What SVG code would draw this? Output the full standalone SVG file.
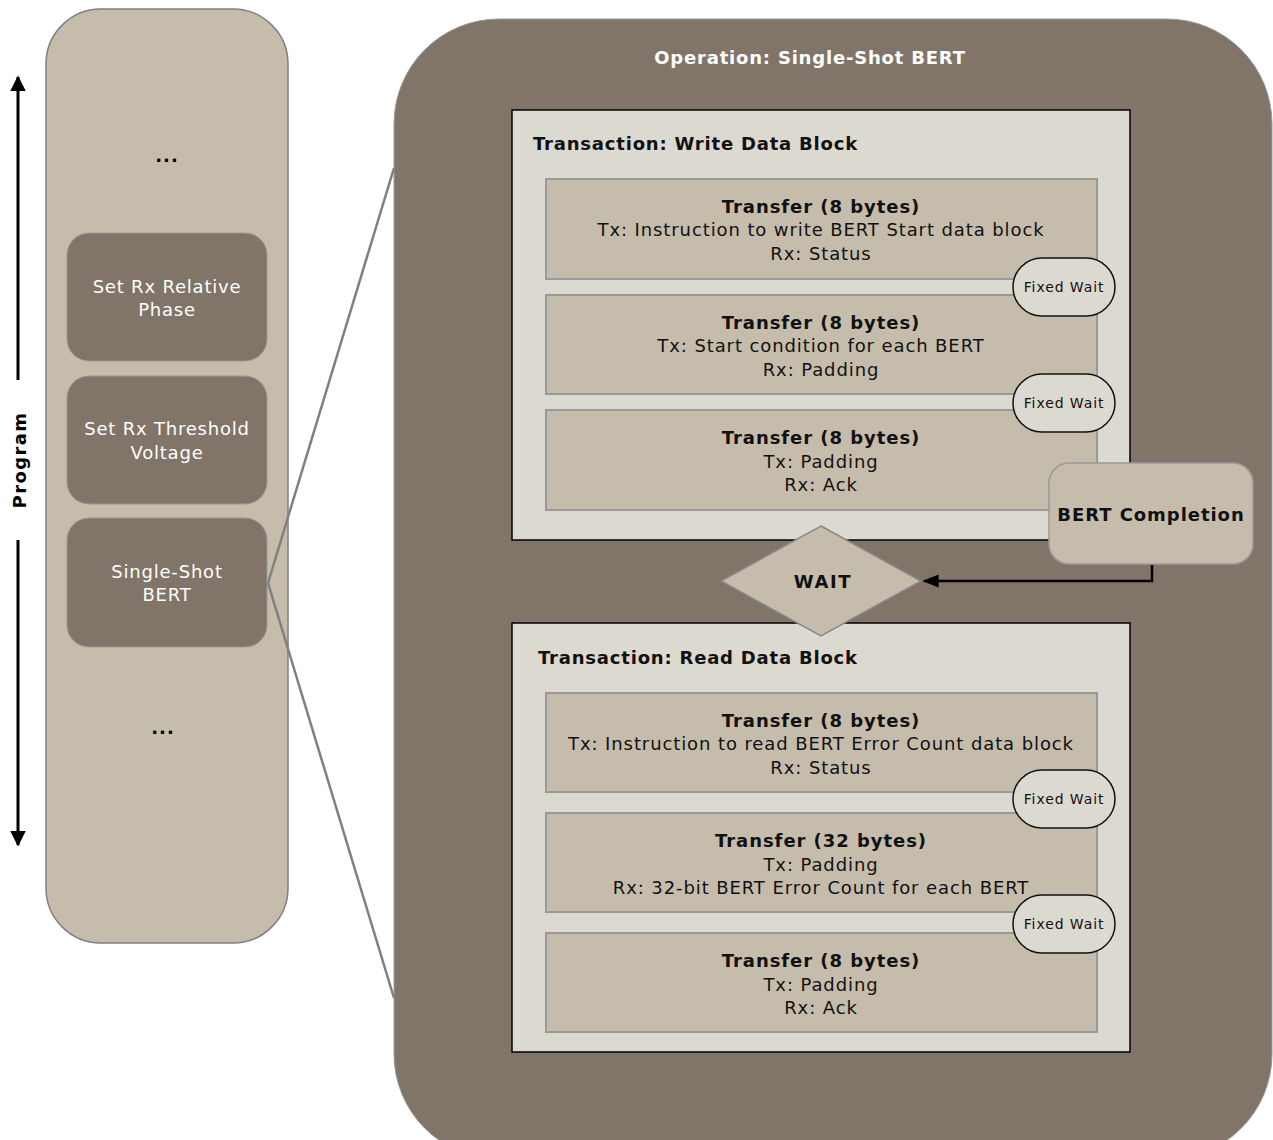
<svg xmlns="http://www.w3.org/2000/svg" width="1273" height="1140" viewBox="0 0 1273 1140">
<defs>
<style>
text{font-family:"DejaVu Sans","Verdana",sans-serif;}
.panel{fill:#c5bcac;stroke:#808080;stroke-width:1.5}
.step{fill:#807568;stroke:#999;stroke-width:1}
.steptxt{fill:#fff;font-size:18px;letter-spacing:0.8px;text-anchor:middle}
.trans{fill:#dcd9d0;stroke:#000;stroke-width:1.5}
.xfer{fill:#c5bcac;stroke:#999;stroke-width:2}
.tt{font-size:18px;font-weight:bold;letter-spacing:0.95px;text-anchor:middle;fill:#111}
.tl{font-size:18px;letter-spacing:0.9px;text-anchor:middle;fill:#111}
.pill{fill:#dcd9d0;stroke:#111;stroke-width:1.5}
.pt{font-size:14px;letter-spacing:0.9px;text-anchor:middle;fill:#111}
.hd{font-size:18px;font-weight:bold;letter-spacing:0.8px;fill:#111}
</style>
<marker id="ah" viewBox="0 0 10 10" refX="9" refY="5" markerWidth="5.2" markerHeight="5.2" orient="auto" markerUnits="strokeWidth">
<path d="M0,0 L10,5 L0,10 z" fill="#000"/>
</marker>
<marker id="ah2" viewBox="0 0 10 10" refX="9" refY="5" markerWidth="6.5" markerHeight="6.5" orient="auto" markerUnits="strokeWidth">
<path d="M0,1 L10,5 L0,9 z" fill="#000"/>
</marker>
</defs>
<rect width="1273" height="1140" fill="#fff"/>

<g id="program-axis">
<line x1="18" y1="380" x2="18" y2="77" stroke="#000" stroke-width="3" marker-end="url(#ah)"/>
<line x1="18" y1="540" x2="18" y2="845" stroke="#000" stroke-width="3" marker-end="url(#ah)"/>
<text transform="translate(26,460) rotate(-90)" text-anchor="middle" font-size="18" font-weight="bold" letter-spacing="1.4" fill="#000">Program</text>
</g>

<g id="program-panel">
<rect x="46" y="9" width="242" height="934" rx="55" class="panel"/>
<text x="167" y="162" text-anchor="middle" font-size="18" font-weight="bold" letter-spacing="1">...</text>
<text x="163" y="734" text-anchor="middle" font-size="18" font-weight="bold" letter-spacing="1">...</text>
</g>

<g id="operation">
<rect x="394" y="19" width="878" height="1140" rx="105" fill="#807568" stroke="#999" stroke-width="1"/>
<text x="810" y="64" text-anchor="middle" font-size="18" font-weight="bold" letter-spacing="0.8" fill="#fff">Operation: Single-Shot BERT</text>
</g>

<g id="connectors">
<line x1="268" y1="583" x2="394" y2="168" stroke="#808080" stroke-width="2.5"/>
<line x1="268" y1="583" x2="394" y2="998" stroke="#808080" stroke-width="2.5"/>
<polyline points="1152,565 1152,581 924,581" fill="none" stroke="#000" stroke-width="2.5" marker-end="url(#ah2)"/>
</g>

<g id="step-phase">
<rect x="67" y="233" width="200" height="128" rx="22" class="step"/>
<text x="167" y="293" class="steptxt">Set Rx Relative</text>
<text x="167" y="316" class="steptxt">Phase</text>
</g>
<g id="step-threshold">
<rect x="67" y="376" width="200" height="128" rx="22" class="step"/>
<text x="167" y="435" class="steptxt">Set Rx Threshold</text>
<text x="167" y="459" class="steptxt">Voltage</text>
</g>
<g id="step-bert">
<rect x="67" y="518" width="200" height="129" rx="22" class="step"/>
<text x="167" y="578" class="steptxt">Single-Shot</text>
<text x="167" y="601" class="steptxt">BERT</text>
</g>

<g id="tx-write">
<rect x="512" y="110" width="618" height="430" class="trans"/>
<text x="533" y="150" class="hd">Transaction: Write Data Block</text>
</g>
<g id="w1">
<rect x="546" y="179" width="551" height="100" class="xfer"/>
<text x="821" y="213" class="tt">Transfer (8 bytes)</text>
<text x="821" y="236" class="tl">Tx: Instruction to write BERT Start data block</text>
<text x="821" y="260" class="tl">Rx: Status</text>
</g>
<g id="w2">
<rect x="546" y="295" width="551" height="99" class="xfer"/>
<text x="821" y="329" class="tt">Transfer (8 bytes)</text>
<text x="821" y="352" class="tl">Tx: Start condition for each BERT</text>
<text x="821" y="376" class="tl">Rx: Padding</text>
</g>
<g id="w3">
<rect x="546" y="410" width="551" height="100" class="xfer"/>
<text x="821" y="444" class="tt">Transfer (8 bytes)</text>
<text x="821" y="468" class="tl">Tx: Padding</text>
<text x="821" y="491" class="tl">Rx: Ack</text>
</g>
<g id="fw1">
<rect x="1013" y="258" width="102" height="58" rx="29" class="pill"/>
<text x="1064" y="292" class="pt">Fixed Wait</text>
</g>
<g id="fw2">
<rect x="1013" y="374" width="102" height="58" rx="29" class="pill"/>
<text x="1064" y="408" class="pt">Fixed Wait</text>
</g>

<g id="tx-read">
<rect x="512" y="623" width="618" height="429" class="trans"/>
<text x="538" y="664" class="hd">Transaction: Read Data Block</text>
</g>
<g id="r1">
<rect x="546" y="693" width="551" height="99" class="xfer"/>
<text x="821" y="727" class="tt">Transfer (8 bytes)</text>
<text x="821" y="750" class="tl">Tx: Instruction to read BERT Error Count data block</text>
<text x="821" y="774" class="tl">Rx: Status</text>
</g>
<g id="r2">
<rect x="546" y="813" width="551" height="99" class="xfer"/>
<text x="821" y="847" class="tt">Transfer (32 bytes)</text>
<text x="821" y="871" class="tl">Tx: Padding</text>
<text x="821" y="894" class="tl">Rx: 32-bit BERT Error Count for each BERT</text>
</g>
<g id="r3">
<rect x="546" y="933" width="551" height="99" class="xfer"/>
<text x="821" y="967" class="tt">Transfer (8 bytes)</text>
<text x="821" y="991" class="tl">Tx: Padding</text>
<text x="821" y="1014" class="tl">Rx: Ack</text>
</g>
<g id="fw3">
<rect x="1013" y="770" width="102" height="58" rx="29" class="pill"/>
<text x="1064" y="804" class="pt">Fixed Wait</text>
</g>
<g id="fw4">
<rect x="1013" y="895" width="102" height="58" rx="29" class="pill"/>
<text x="1064" y="929" class="pt">Fixed Wait</text>
</g>

<g id="bert-completion">
<rect x="1049" y="463" width="204" height="101" rx="20" fill="#c5bcac" stroke="#999" stroke-width="1.5"/>
<text x="1151" y="521" class="tt">BERT Completion</text>
</g>

<g id="wait">
<polygon points="821,526 921,581 821,636 721,581" fill="#c5bcac" stroke="#888" stroke-width="1.5"/>
<text x="823" y="588" class="tt" style="letter-spacing:1.6px">WAIT</text>
</g>
</svg>
